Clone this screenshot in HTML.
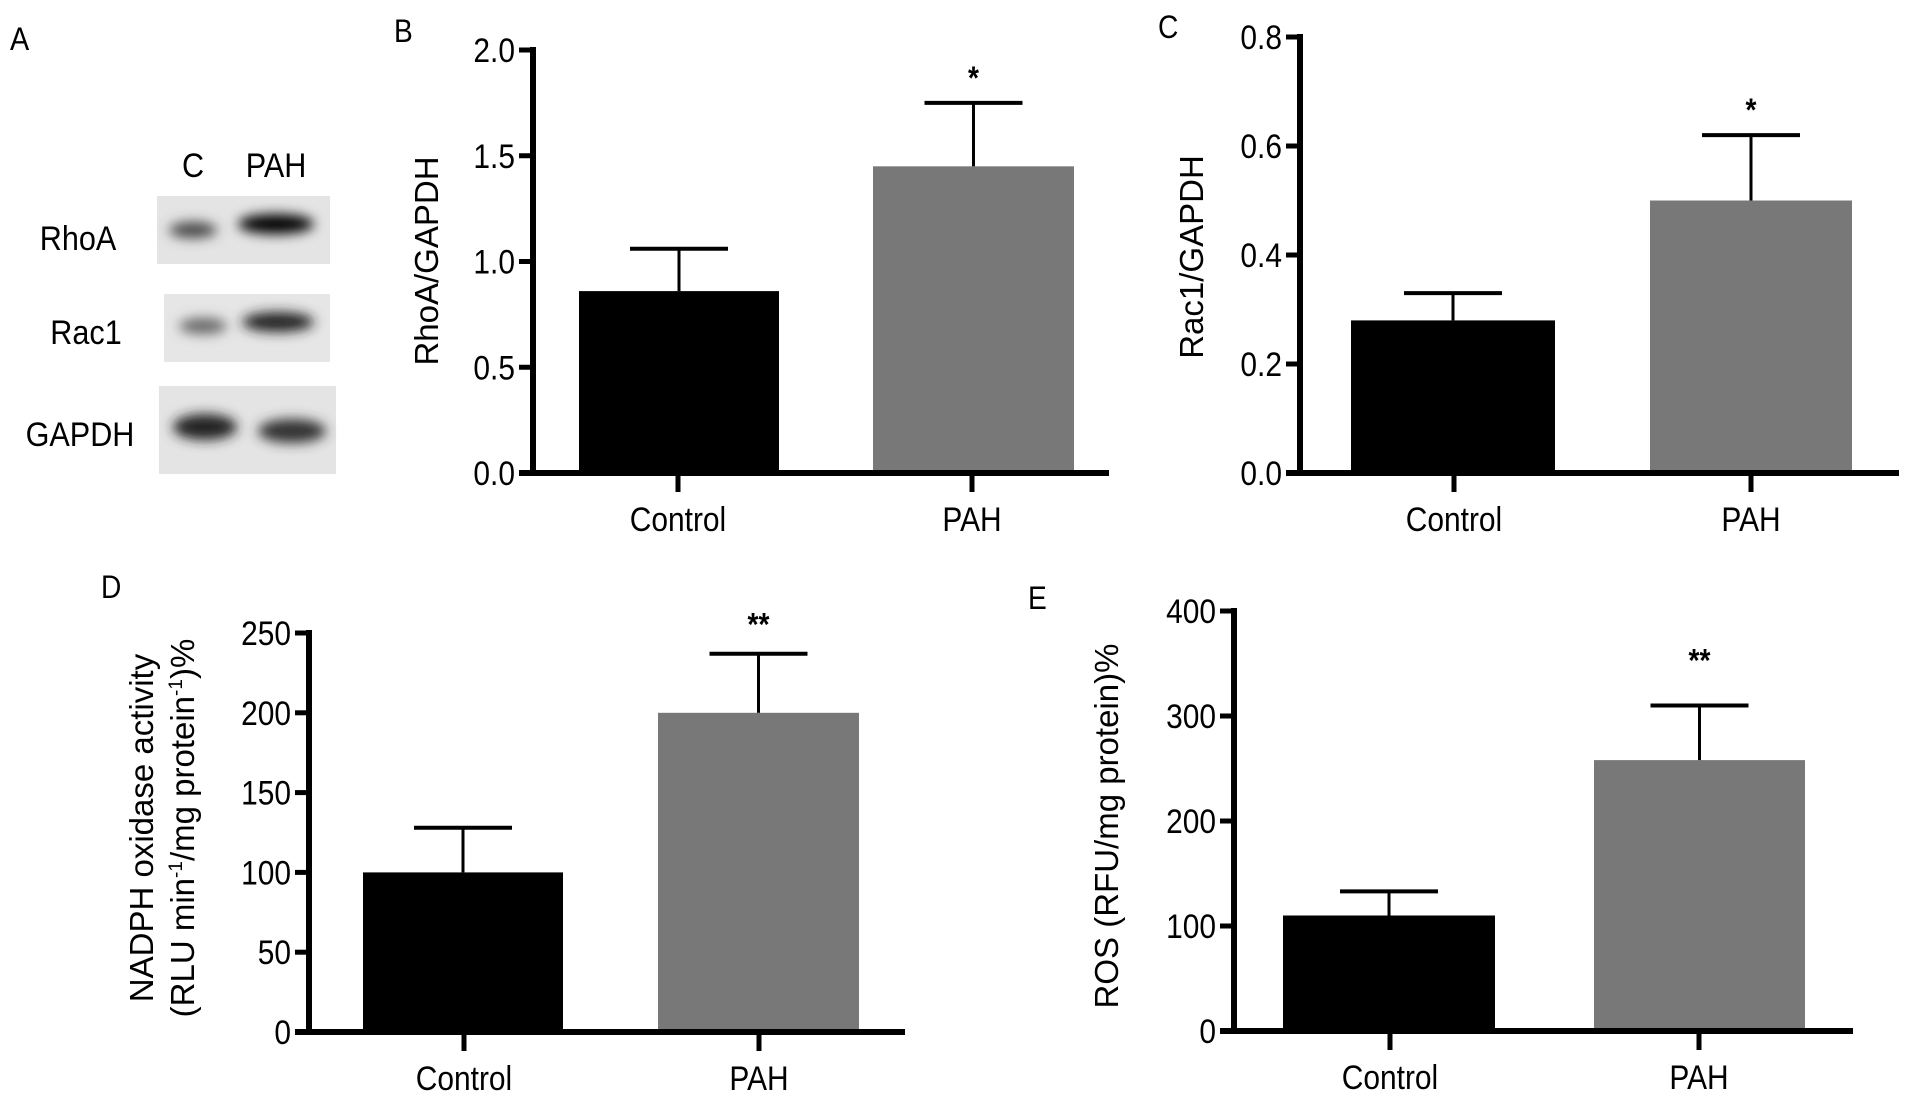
<!DOCTYPE html>
<html><head><meta charset="utf-8"><style>
html,body{margin:0;padding:0;background:#fff;}
svg{display:block;font-family:"Liberation Sans",Arial,sans-serif;}
</style></head><body>
<svg id="fig" width="1913" height="1100" viewBox="0 0 1913 1100">
 <defs>
  <filter id="blur" x="-50%" y="-100%" width="200%" height="300%"><feGaussianBlur stdDeviation="6"/></filter>
 </defs>
 <g>
  <text transform="translate(10 50) scale(0.9 1)" font-size="32">A</text>
  <text transform="translate(193 177) scale(0.9 1)" font-size="34" text-anchor="middle">C</text>
  <text transform="translate(276 177) scale(0.9 1)" font-size="34" text-anchor="middle">PAH</text>
  <rect x="157" y="196" width="173" height="68" fill="#e4e4e4"/>
  <ellipse cx="193" cy="230" rx="24" ry="8" fill="#444" filter="url(#blur)"/>
  <ellipse cx="276" cy="224" rx="38" ry="10" fill="#000" filter="url(#blur)"/>
  <rect x="164" y="294" width="166" height="68" fill="#e6e6e6"/>
  <ellipse cx="203" cy="326" rx="24" ry="8" fill="#666" filter="url(#blur)"/>
  <ellipse cx="278" cy="322" rx="36" ry="10" fill="#222" filter="url(#blur)"/>
  <rect x="159" y="386" width="177" height="88" fill="#e4e4e4"/>
  <ellipse cx="205" cy="427" rx="32" ry="13" fill="#222" filter="url(#blur)"/>
  <ellipse cx="292" cy="431" rx="34" ry="12" fill="#333" filter="url(#blur)"/>
  <text transform="translate(78 250) scale(0.9 1)" font-size="34" text-anchor="middle">RhoA</text>
  <text transform="translate(86 344) scale(0.9 1)" font-size="34" text-anchor="middle">Rac1</text>
  <text transform="translate(80 446) scale(0.9 1)" font-size="34" text-anchor="middle">GAPDH</text>
 </g>
</svg>
<script>
const categories = ["Control", "PAH"];
const rhoaValues = [0.86, 1.45];
const rhoaErrors = [0.20, 0.30];
const rhoaTicks = ["0.0", "0.5", "1.0", "1.5", "2.0"];
const rac1Values = [0.28, 0.50];
const rac1Errors = [0.05, 0.12];
const rac1Ticks = ["0.0", "0.2", "0.4", "0.6", "0.8"];
const noxValues = [100, 200];
const noxErrors = [28, 37];
const noxTicks = ["0", "50", "100", "150", "200", "250"];
const rosValues = [110, 258];
const rosErrors = [23, 52];
const rosTicks = ["0", "100", "200", "300", "400"];
const stars = ["*", "**"];

const NS = "http://www.w3.org/2000/svg";
const svg = document.getElementById('fig');
function mk(tag, attrs, parent) {
  const e = document.createElementNS(NS, tag);
  for (const k in attrs) e.setAttribute(k, attrs[k]);
  parent.appendChild(e);
  return e;
}
function txt(parent, x, y, size, anchor, content, extra) {
  const a = {transform: 'translate(' + x + ' ' + y + ') scale(0.88 1)', 'font-size': size, 'text-anchor': anchor};
  for (const k in (extra || {})) a[k] = extra[k];
  const t = mk('text', a, parent);
  t.textContent = content;
  return t;
}
const colors = ["#000", "#787878"];

function panel(cfg) {
  const g = mk('g', {}, svg);
  
  
  const max = cfg.max;
  const y = v => cfg.y0 - (v / max) * (cfg.y0 - cfg.yTop);
  const pl = txt(g, cfg.lx, cfg.ly, 32, 'start', cfg.letter);
  
  
  cfg.values.forEach((v, i) => {
    const b = cfg.bars[i];
    const r = mk('rect', {x: b[0], y: y(v), width: b[1] - b[0], height: cfg.y0 - y(v), fill: colors[i]}, g);
    
    
    const cx = (b[0] + b[1]) / 2;
    const top = y(v + cfg.errors[i]);
    const eg = mk('g', {stroke: '#000', 'stroke-width': 3}, g);
    
    
    mk('line', {x1: cx, x2: cx, y1: y(v), y2: top}, eg);
    mk('line', {x1: cx - 49, x2: cx + 49, y1: top, y2: top, 'stroke-width': 4}, eg);
    if (i === 1) {
      const s = txt(g, cx, top - cfg.starGap, 32, 'middle', cfg.star, {'font-weight': 'bold'});
      
      
    }
    const tk = mk('line', {x1: cfg.ticksX[i], x2: cfg.ticksX[i], y1: cfg.y0, y2: cfg.y0 + 19, stroke: '#000', 'stroke-width': 5}, g);
    
    
    const cl = txt(g, cfg.ticksX[i], cfg.y0 + 58, 34, 'middle', categories[i]);
    
    
  });
  const ya = mk('line', {x1: cfg.ax, x2: cfg.ax, y1: cfg.yTop - 3, y2: cfg.y0 + 3, stroke: '#000', 'stroke-width': 6}, g);
  
  
  const xa = mk('line', {x1: cfg.ax - 14, x2: cfg.axEnd, y1: cfg.y0, y2: cfg.y0, stroke: '#000', 'stroke-width': 6}, g);
  
  
  cfg.ticks.forEach((t, i) => {
    const v = i * max / (cfg.ticks.length - 1);
    const ty = y(v);
    const tl = mk('line', {x1: cfg.ax - 14, x2: cfg.ax, y1: ty, y2: ty, stroke: '#000', 'stroke-width': 5}, g);
    
    
    const tt = txt(g, cfg.ax - 18, ty + 12, 34, 'end', t);
    
    
  });
  cfg.titles.forEach((tline, i) => {
    const tx = cfg.titleX[i];
    const t = mk('text', {x: tx, y: cfg.titleY, 'font-size': 33, 'text-anchor': 'middle', transform: 'rotate(-90 ' + tx + ' ' + cfg.titleY + ')'}, g);
    t.innerHTML = tline;
    
    
  });
}

panel({name: 'panel-b', letter: 'B', lx: 394, ly: 42, ax: 533, y0: 473, yTop: 50, max: 2, axEnd: 1109,
  bars: [[579, 779], [873, 1074]], ticksX: [678, 972], values: rhoaValues, errors: rhoaErrors,
  ticks: rhoaTicks, star: stars[0], starGap: 14, titles: ['RhoA/GAPDH'], titleX: [438], titleY: 261});
panel({name: 'panel-c', letter: 'C', lx: 1158, ly: 38, ax: 1300, y0: 473, yTop: 37, max: 0.8, axEnd: 1899,
  bars: [[1351, 1555], [1650, 1852]], ticksX: [1454, 1751], values: rac1Values, errors: rac1Errors,
  ticks: rac1Ticks, star: stars[0], starGap: 14, titles: ['Rac1/GAPDH'], titleX: [1203], titleY: 257});
panel({name: 'panel-d', letter: 'D', lx: 101, ly: 598, ax: 309, y0: 1032, yTop: 633, max: 250, axEnd: 905,
  bars: [[363, 563], [658, 859]], ticksX: [464, 759], values: noxValues, errors: noxErrors,
  ticks: noxTicks, star: stars[1], starGap: 18,
  titles: ['NADPH oxidase activity', '(RLU min<tspan font-size="19" dy="-12">-1</tspan><tspan dy="12">/mg protein</tspan><tspan font-size="19" dy="-12">-1</tspan><tspan dy="12">)%</tspan>'],
  titleX: [153, 194], titleY: 828});
panel({name: 'panel-e', letter: 'E', lx: 1028, ly: 609, ax: 1234, y0: 1031, yTop: 611, max: 400, axEnd: 1853,
  bars: [[1283, 1495], [1594, 1805]], ticksX: [1390, 1699], values: rosValues, errors: rosErrors,
  ticks: rosTicks, star: stars[1], starGap: 34, titles: ['ROS (RFU/mg protein)%'], titleX: [1118], titleY: 826});
</script>
</body></html>
